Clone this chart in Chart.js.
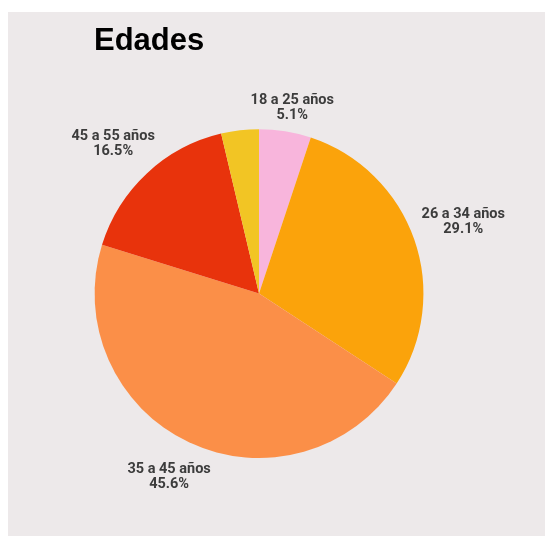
<!DOCTYPE html>
<html>
<head>
<meta charset="utf-8">
<script src="https://cdn.jsdelivr.net/npm/chart.js@4.4.0/dist/chart.umd.min.js"></script>
<style>
  html, body { margin: 0; padding: 0; background: #ffffff; }
  #panel { position: absolute; left: 8px; top: 12px; width: 537px; height: 524px; background: #ede9ea; }
</style>
</head>
<body>
<div id="panel"><canvas id="edadesChart" width="537" height="524"></canvas></div>
<script>
// Datos
const categorias = ['18 a 25 años', '26 a 34 años', '35 a 45 años', '45 a 55 años', 'Más de 55 años'];
const porcentajes = [5.1, 29.1, 45.6, 16.5, 3.7];
const colores = ['#f8b5dc', '#fba30b', '#fb8f48', '#e8330c', '#f2c524'];

// etiquetas fuera del pastel (solo las porciones grandes)
const etiquetasFuera = {
    id: 'etiquetasFuera',
    afterDatasetsDraw(chart) {
        const ctx = chart.ctx;
        const meta = chart.getDatasetMeta(0);
        ctx.save();
        ctx.font = 'bold 14.5px Roboto, sans-serif';
        ctx.fillStyle = '#3c3c3c';
        ctx.textAlign = 'center';
        ctx.textBaseline = 'middle';
        meta.data.forEach((arc, i) => {
            const v = porcentajes[i];
            if (v < 4) return;
            const p = arc.getProps(['x', 'y', 'startAngle', 'endAngle', 'outerRadius'], true);
            const mid = (p.startAngle + p.endAngle) / 2;
            const cos = Math.cos(mid), sin = Math.sin(mid);
            const lineas = [categorias[i], v.toFixed(1) + '%'];
            const w = Math.max(...lineas.map(t => ctx.measureText(t).width));
            const h = 32;
            // un poco mas lejos en los lados
            const dist = p.outerRadius + 5 + 10 * Math.abs(cos);
            const cx = p.x + cos * dist + cos * w * 0.45;
            let ajusteY = sin > 0 ? 13 * sin : -7.5 * Math.abs(cos) - (cos < 0 ? 4 : 0);
            const cy = p.y + sin * dist + sin * h / 2 + ajusteY;
            ctx.fillText(lineas[0], cx, cy - 7.5);
            ctx.fillText(lineas[1], cx, cy + 7.5);
        });
        ctx.restore();
    }
};

const ctxEdades = document.getElementById('edadesChart').getContext('2d');
const edadesChart = new Chart(ctxEdades, {
    type: 'pie',
    data: {
        labels: categorias,
        datasets: [{
            data: porcentajes,
            backgroundColor: colores,
            borderWidth: 0
        }]
    },
    options: {
        responsive: false,
        animation: false,
        layout: {
            padding: { left: 86, right: 121, top: 0, bottom: 78 }
        },
        plugins: {
            legend: { display: false },
            tooltip: { enabled: false },
            title: {
                display: true,
                text: 'Edades',
                align: 'start',
                color: '#000000',
                font: { family: 'Liberation Sans, Arial, sans-serif', size: 31, weight: 'bold' },
                padding: { top: 11, bottom: 69 }
            }
        }
    },
    plugins: [etiquetasFuera]
});
</script>
</body>
</html>
